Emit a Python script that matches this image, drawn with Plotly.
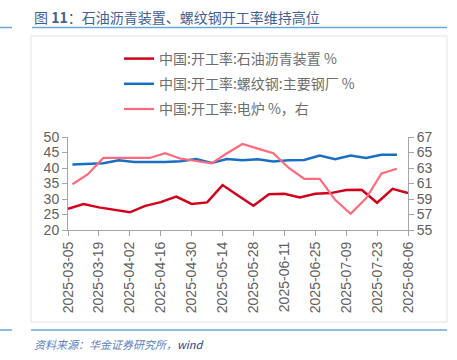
import plotly.graph_objects as go

# ---------------- data ----------------
asphalt_dates = ["2025-03-05", "2025-03-12", "2025-03-19", "2025-03-26", "2025-04-02", "2025-04-09",
                 "2025-04-16", "2025-04-23", "2025-04-30", "2025-05-07", "2025-05-14", "2025-05-21",
                 "2025-05-28", "2025-06-04", "2025-06-11", "2025-06-18", "2025-06-25", "2025-07-02",
                 "2025-07-09", "2025-07-16", "2025-07-23", "2025-07-30", "2025-08-06"]
asphalt_rate = [26.8, 28.4, 27.3, 26.5, 25.7, 27.8, 29.0, 30.8, 28.4, 28.9, 34.5, 31.1,
                27.8, 31.5, 31.7, 30.5, 31.7, 31.9, 32.9, 33.0, 28.8, 33.3, 31.9]

steel_dates = ["2025-03-07", "2025-03-14", "2025-03-21", "2025-03-28", "2025-04-04", "2025-04-11",
               "2025-04-18", "2025-04-25", "2025-05-02", "2025-05-09", "2025-05-16", "2025-05-23",
               "2025-05-30", "2025-06-06", "2025-06-13", "2025-06-20", "2025-06-27", "2025-07-04",
               "2025-07-11", "2025-07-18", "2025-07-25", "2025-08-01"]
rebar_rate = [41.1, 41.4, 41.5, 42.5, 41.9, 41.9, 41.9, 42.2, 42.9, 41.6, 42.9, 42.5,
              42.8, 42.1, 42.5, 42.6, 44.0, 42.8, 44.0, 43.2, 44.3, 44.3]
eaf_rate = [60.9, 62.2, 64.3, 64.3, 64.3, 64.3, 64.9, 64.2, 63.9, 63.6, 64.9, 66.1,
            65.5, 64.9, 63.0, 61.6, 61.6, 58.9, 57.1, 59.1, 62.3, 62.9]

tick_dates = ["2025-03-05", "2025-03-19", "2025-04-02", "2025-04-16", "2025-04-30", "2025-05-14",
              "2025-05-28", "2025-06-11", "2025-06-25", "2025-07-09", "2025-07-23", "2025-08-06"]

names = ["中国:开工率:石油沥青装置 %", "中国:开工率:螺纹钢:主要钢厂 %", "中国:开工率:电炉 %，右"]
colors = ["#d0021b", "#1a6fc4", "#ff6b7d"]

title_text = "图 <b>11</b>：石油沥青装置、螺纹钢开工率维持高位"
source_cn = "资料来源：华金证券研究所，"
source_en = "wind"

# ---------------- layout geometry ----------------
W, H = 457, 360
L, R, T, B = 68, 49, 137, 130
pw, ph = W - L - R, H - T - B


def px2x(px):
    return (px - L) / pw


def px2y(py):
    return (H - B - py) / ph


fig = go.Figure()
fig.add_trace(go.Scatter(x=asphalt_dates, y=asphalt_rate, name=names[0], mode="lines",
                         line=dict(color=colors[0], width=2.5), legendgroup="a"))
fig.add_trace(go.Scatter(x=steel_dates, y=rebar_rate, name=names[1], mode="lines",
                         line=dict(color=colors[1], width=2.5), legendgroup="b"))
fig.add_trace(go.Scatter(x=steel_dates, y=eaf_rate, name=names[2], mode="lines",
                         line=dict(color=colors[2], width=2.2), legendgroup="c", yaxis="y2"))

axis_color = "#a6a6a6"
tick_font = dict(family="Liberation Sans, Arial, sans-serif", size=14, color="#5f5f5f")

fig.update_layout(
    width=W, height=H,
    margin=dict(l=L, r=R, t=T, b=B, autoexpand=False),
    paper_bgcolor="white", plot_bgcolor="white",
    showlegend=True,
    legend=dict(x=px2x(119), y=px2y(43), xanchor="left", yanchor="top",
                font=dict(family="Noto Sans CJK SC, sans-serif", size=14, color="#6e6e6e"),
                tracegroupgap=4, bgcolor="rgba(0,0,0,0)"),
    xaxis=dict(type="date", range=["2025-03-05", "2025-08-06"], automargin=False,
               tickvals=tick_dates, ticktext=tick_dates, tickangle=-90,
               showgrid=False, zeroline=False, showline=True, linecolor=axis_color, linewidth=1,
               ticks="outside", ticklen=5, tickcolor=axis_color, tickfont=tick_font),
    yaxis=dict(range=[20, 50], tick0=20, dtick=5, showgrid=False, zeroline=False, automargin=False,
               showline=True, linecolor=axis_color, linewidth=1,
               ticks="outside", ticklen=5, tickcolor=axis_color, tickfont=tick_font),
    yaxis2=dict(range=[55, 67], tick0=55, dtick=2, overlaying="y", side="right", showgrid=False,
                zeroline=False, showline=True, linecolor=axis_color, linewidth=1, automargin=False,
                ticks="outside", ticklen=5, tickcolor=axis_color, tickfont=tick_font),
)

# frame and decorative lines
line_blue = "#6aa8dc"
shapes = [
    dict(type="rect", xref="paper", yref="paper", x0=px2x(31), x1=px2x(447), y0=px2y(322), y1=px2y(36),
         line=dict(color="#e3e3e3", width=1), fillcolor="rgba(0,0,0,0)", layer="below"),
    dict(type="line", xref="paper", yref="paper", x0=px2x(0), x1=px2x(12), y0=px2y(27.5), y1=px2y(27.5),
         line=dict(color=line_blue, width=1.5)),
    dict(type="line", xref="paper", yref="paper", x0=px2x(32), x1=px2x(447), y0=px2y(27.5), y1=px2y(27.5),
         line=dict(color=line_blue, width=1.5)),
    dict(type="line", xref="paper", yref="paper", x0=px2x(0), x1=px2x(12), y0=px2y(330), y1=px2y(330),
         line=dict(color=line_blue, width=1.5)),
    dict(type="line", xref="paper", yref="paper", x0=px2x(31), x1=px2x(447), y0=px2y(330), y1=px2y(330),
         line=dict(color=line_blue, width=1.5)),
]
fig.update_layout(shapes=shapes)

fig.add_annotation(text=title_text, xref="paper", yref="paper", x=px2x(32), y=px2y(17),
                   xanchor="left", yanchor="middle", showarrow=False,
                   font=dict(family="Noto Sans CJK SC, sans-serif", size=14, color="#3f5f96"))
fig.add_annotation(text="<i>" + source_cn + "<span style='color:#1f3f8f'>" + source_en + "</span></i>",
                   xref="paper", yref="paper", x=px2x(32), y=px2y(344),
                   xanchor="left", yanchor="middle", showarrow=False,
                   font=dict(family="Noto Sans CJK SC, sans-serif", size=11, color="#5a7fc0"))

fig.write_html("out.html", config={"displayModeBar": False},
               post_script="document.body.style.margin='0';document.body.style.padding='0';"
                           "document.documentElement.style.overflow='hidden';")
